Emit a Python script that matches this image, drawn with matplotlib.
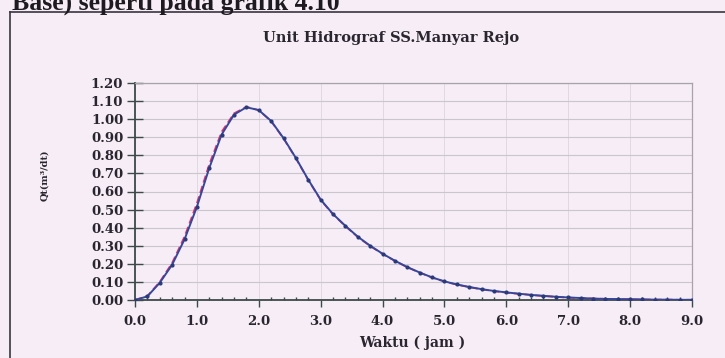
import matplotlib
matplotlib.use("Agg")
import matplotlib.pyplot as plt
from matplotlib.lines import Line2D

# Unit hydrograph ordinates, Q (m3/dt) against time (jam)
waktu = [0.0, 0.2, 0.4, 0.6, 0.8, 1.0, 1.2, 1.4, 1.6, 1.8,
         2.0, 2.2, 2.4, 2.6, 2.8, 3.0, 3.2, 3.4, 3.6, 3.8,
         4.0, 4.2, 4.4, 4.6, 4.8, 5.0, 5.2, 5.4, 5.6, 5.8,
         6.0, 6.2, 6.4, 6.6, 6.8, 7.0, 7.2, 7.4, 7.6, 7.8,
         8.0, 8.2, 8.4, 8.6, 8.8, 9.0]
q_hitung = [0.000, 0.020, 0.095, 0.195, 0.335, 0.515, 0.730, 0.915, 1.025, 1.066,
            1.050, 0.990, 0.895, 0.785, 0.665, 0.555, 0.475, 0.410, 0.350, 0.300,
            0.256, 0.217, 0.182, 0.152, 0.125, 0.103, 0.086, 0.072, 0.060, 0.050,
            0.042, 0.035, 0.028, 0.023, 0.018, 0.014, 0.011, 0.008, 0.006, 0.005,
            0.004, 0.003, 0.002, 0.002, 0.001, 0.001]
q_koreksi = [0.000, 0.022, 0.100, 0.205, 0.350, 0.535, 0.750, 0.930, 1.032, 1.068,
             1.050, 0.988, 0.893, 0.783, 0.663, 0.553, 0.473, 0.408, 0.348, 0.298,
             0.255, 0.216, 0.181, 0.151, 0.124, 0.102, 0.085, 0.071, 0.059, 0.049,
             0.041, 0.034, 0.028, 0.022, 0.017, 0.013, 0.010, 0.008, 0.006, 0.005,
             0.004, 0.003, 0.002, 0.002, 0.001, 0.001]

x_ticks = [0.0, 1.0, 2.0, 3.0, 4.0, 5.0, 6.0, 7.0, 8.0, 9.0]
y_ticks = [0.00, 0.10, 0.20, 0.30, 0.40, 0.50, 0.60, 0.70, 0.80, 0.90, 1.00, 1.10, 1.20]

judul = "Unit Hidrograf SS.Manyar Rejo"
label_x = "Waktu ( jam )"
label_y = "Qt(m³/dt)"
heading = "Base) seperti pada grafik 4.10"

paper = "#f6edf6"
ink = "#2a2630"
W, H = 725, 358
fig = plt.figure(figsize=(W / 100, H / 100), dpi=100, facecolor=paper)

def px(x, y):
    return x / W, 1 - y / H

# page heading running off the top edge, and the chart frame lines
fig.text(*px(12, 10), heading, family="Liberation Serif", fontweight="bold",
         fontsize=18.5, color="#1e1a22", va="baseline", ha="left")
fig.add_artist(Line2D([10 / W, 1], [1 - 12 / H] * 2, color="#3a3540", lw=1.2))
fig.add_artist(Line2D([10 / W] * 2, [0, 1 - 12 / H], color="#3a3540", lw=1.2))

l, b = px(135, 300)
r, t = px(692, 83)
ax = fig.add_axes([l, b, r - l, t - b], facecolor=paper)

ax.plot(waktu, q_koreksi, color="#e8306a", lw=1.3, ls=(0, (4, 2)), zorder=3)
ax.plot(waktu, q_hitung, color="#34489a", lw=1.4, marker="o", ms=2.0,
        mfc="#2a3a7a", mec="#2a3a7a", zorder=4)

ax.set_xlim(0, 9)
ax.set_ylim(0, 1.2)
ax.set_xticks(x_ticks)
ax.set_xticks([v / 5 for v in range(46)], minor=True)
ax.set_yticks(y_ticks)
ax.set_xticklabels([f"{v:.1f}" for v in x_ticks])
ax.set_yticklabels([f"{v:.2f}" for v in y_ticks])

for lab in ax.get_xticklabels() + ax.get_yticklabels():
    lab.set_fontfamily("DejaVu Serif")
    lab.set_fontweight("bold")
    lab.set_fontsize(9.5)
    lab.set_color(ink)

axis_col = "#3e4a4a"
ax.tick_params(axis="y", direction="inout", length=11, width=1.0, color=axis_col, pad=3)
ax.tick_params(axis="x", which="major", direction="out", length=5, width=1.0,
               color=axis_col, pad=6)
ax.tick_params(axis="x", which="minor", direction="in", length=2, width=1.0,
               color=axis_col)

ax.grid(axis="y", color="#cbc5cd", lw=0.8)
ax.grid(axis="x", which="major", color="#ddd6df", lw=0.6)
ax.set_axisbelow(True)

for side in ("top", "right"):
    ax.spines[side].set_color("#a8a2aa")
    ax.spines[side].set_linewidth(0.9)
for side in ("left", "bottom"):
    ax.spines[side].set_color(axis_col)
    ax.spines[side].set_linewidth(1.3)

fig.text(*px(391, 38), judul, ha="center", va="center",
         family="DejaVu Serif", fontweight="bold", fontsize=10.5, color=ink)
fig.text(*px(412, 343), label_x, ha="center", va="center",
         family="DejaVu Serif", fontweight="bold", fontsize=10, color=ink)
fig.text(*px(45, 175), label_y, ha="center", va="center", rotation=90,
         family="DejaVu Serif", fontweight="bold", fontsize=7, color=ink)

fig.savefig("out.png", dpi=100, facecolor=paper)
